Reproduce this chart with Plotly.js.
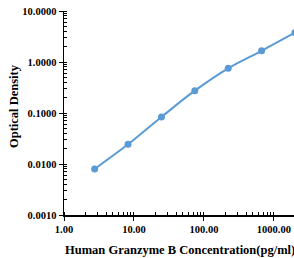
<!DOCTYPE html>
<html><head><meta charset="utf-8">
<script src="https://cdn.plot.ly/plotly-3.0.1.min.js"></script>
<style>html,body{margin:0;padding:0;background:#fff}#c{width:294px;height:258px}</style>
</head><body><div id="c"></div>
<script>
const concentration = [2.74, 8.23, 24.69, 74.07, 222.22, 666.67, 2000];
const opticalDensity = [0.0080, 0.0243, 0.0835, 0.274, 0.752, 1.66, 3.76];
const yTickVals = [0.001, 0.01, 0.1, 1, 10];
const yTickText = ["0.0010", "0.0100", "0.1000", "1.0000", "10.0000"];
const xTickVals = [1, 10, 100, 1000];
const xTickText = ["1.00", "10.00", "100.00", "1000.00"];
const xTitle = "Human Granzyme B Concentration(pg/ml)";
const yTitle = "Optical Density";

const fam = "Liberation Serif, Times New Roman, serif";
const trace = {
  x: concentration, y: opticalDensity, type: "scatter", mode: "lines+markers",
  line: {color: "#5b9bd5", width: 2, shape: "spline"},
  marker: {color: "#5b9bd5", size: 7}
};
const W = 294, H = 258, L = 64, R = 0, T = 11, B = 43;
const pw = W - L - R, ph = H - T - B;
const layout = {
  width: W, height: H,
  margin: {l: L, r: R, t: T, b: B},
  paper_bgcolor: "#fff", plot_bgcolor: "#fff",
  showlegend: false,
  font: {family: fam, size: 10, color: "#000"},
  xaxis: {
    type: "log", range: [0, Math.log10(2000) - 0.014],
    tickvals: xTickVals, ticktext: xTickText,
    ticks: "outside", ticklen: 4, tickwidth: 1, tickcolor: "#000",
    minor: {ticks: "inside", dtick: "D1", ticklen: 3, tickcolor: "#000", tickwidth: 1},
    showline: true, linecolor: "#000", linewidth: 1.5,
    showgrid: false, zeroline: false,
    tickfont: {family: fam, size: 10.5, color: "#000", weight: "bold"}
  },
  yaxis: {
    type: "log", range: [-3, 1],
    tickvals: yTickVals, ticktext: yTickText,
    ticks: "outside", ticklen: 4, tickwidth: 1, tickcolor: "#000",
    minor: {ticks: "inside", dtick: "D1", ticklen: 3, tickcolor: "#000", tickwidth: 1},
    showline: true, linecolor: "#000", linewidth: 1.5,
    showgrid: false, zeroline: false,
    tickfont: {family: fam, size: 10.5, color: "#000", weight: "bold"}
  },
  annotations: [
    {text: "<b>" + xTitle + "</b>", xref: "paper", yref: "paper",
     x: (180 - L) / pw, y: (H - B - 250) / ph, xanchor: "center", yanchor: "middle",
     showarrow: false, font: {family: fam, size: 12.5, color: "#000"}},
    {text: "<b>" + yTitle + "</b>", xref: "paper", yref: "paper", textangle: -90,
     x: (14 - L) / pw, y: (H - B - 106) / ph, xanchor: "center", yanchor: "middle",
     showarrow: false, font: {family: fam, size: 12.5, color: "#000"}}
  ]
};
Plotly.newPlot("c", [trace], layout, {displayModeBar: false, staticPlot: true});
</script></body></html>
